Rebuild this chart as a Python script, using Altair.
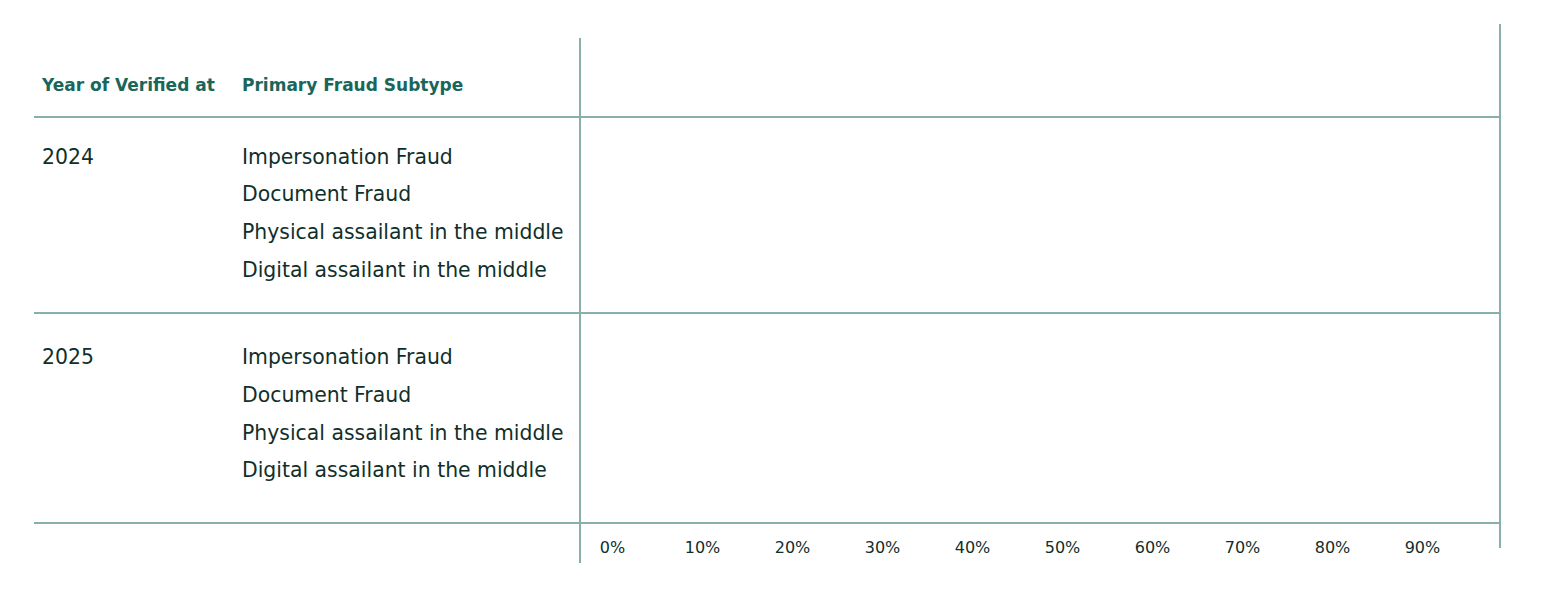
import altair as alt
import pandas as pd

# ---- data (no bars are drawn, so every share is 0) ----
years = ["2024", "2025"]
subtypes = [
    "Impersonation Fraud",
    "Document Fraud",
    "Physical assailant in the middle",
    "Digital assailant in the middle",
]
shares_2024 = [0, 0, 0, 0]
shares_2025 = [0, 0, 0, 0]
header_labels = ["Year of Verified at", "Primary Fraud Subtype"]
tick_values = [0.0, 0.1, 0.2, 0.3, 0.4, 0.5, 0.6, 0.7, 0.8, 0.9]

# ---- styles ----
LINE = "#88b0aa"
HEAD = "#19665b"
BODY = "#112f2a"
FONT = "DejaVu Sans"
W = 920
XDOM = [-0.0356, 0.9867]
COL_YEAR = -538
COL_SUB = -338


def rule(x, x2, y, y2):
    return (
        alt.Chart(alt.Data(values=[{"k": 1}]))
        .mark_rule(color=LINE, strokeWidth=2)
        .encode(x=alt.value(x), x2=alt.value(x2), y=alt.value(y), y2=alt.value(y2))
    )


def head_text(label, x, y):
    return (
        alt.Chart(pd.DataFrame({"label": [label]}))
        .mark_text(align="left", baseline="middle", font=FONT, fontSize=17,
                   fontWeight="bold", color=HEAD)
        .encode(x=alt.value(x), y=alt.value(y), text="label:N")
    )


HEADER_H = 93
header = alt.layer(
    head_text(header_labels[0], COL_YEAR, 62),
    head_text(header_labels[1], COL_SUB, 62),
    rule(0, 0, 14, HEADER_H),
    rule(W, W, 0, HEADER_H),
    rule(-546, W, HEADER_H, HEADER_H),
).properties(width=W, height=HEADER_H)


def group_chart(year, values, height, pad_outer, align, last=False):
    df = pd.DataFrame({"year": [year] * len(subtypes), "subtype": subtypes, "share": values})
    yenc = alt.Y("subtype:N", sort=subtypes, axis=None,
                 scale=alt.Scale(paddingInner=0, paddingOuter=pad_outer, align=align))
    if last:
        xaxis = alt.Axis(values=tick_values, format=".0%", title=None, ticks=False,
                         domain=False, grid=False, labelFont=FONT, labelFontSize=16,
                         labelColor=BODY, labelPadding=16)
    else:
        xaxis = None
    bars = alt.Chart(df).mark_bar(color=HEAD).encode(
        x=alt.X("share:Q", scale=alt.Scale(domain=XDOM, nice=False), axis=xaxis),
        x2=alt.datum(0),
        y=yenc,
    )
    sub_text = alt.Chart(df).mark_text(
        align="left", baseline="middle", font=FONT, fontSize=20.4, color=BODY
    ).encode(x=alt.value(COL_SUB), y=yenc, text="subtype:N")
    year_text = alt.Chart(df).transform_filter(
        alt.datum.subtype == subtypes[0]
    ).mark_text(
        align="left", baseline="middle", font=FONT, fontSize=20.4, color=BODY
    ).encode(x=alt.value(COL_YEAR), y=yenc, text="year:N")
    left_end = height + 40 if last else height
    right_end = height + 25 if last else height
    return alt.layer(
        bars, sub_text, year_text,
        rule(0, 0, 0, left_end),
        rule(W, W, 0, right_end),
        rule(-546, W, height, height),
    ).properties(width=W, height=height)


g24 = group_chart(years[0], shares_2024, 196, 0.6, 0.48)
g25 = group_chart(years[1], shares_2025, 210, 0.785, 0.445, last=True)

chart = alt.vconcat(
    header, g24, g25, spacing=0, bounds="flush",
    padding={"left": 25, "top": 15, "right": 10, "bottom": 10},
).configure(font=FONT).configure_view(stroke=None)

chart.save("out.html", embed_options={"renderer": "svg", "actions": False})
